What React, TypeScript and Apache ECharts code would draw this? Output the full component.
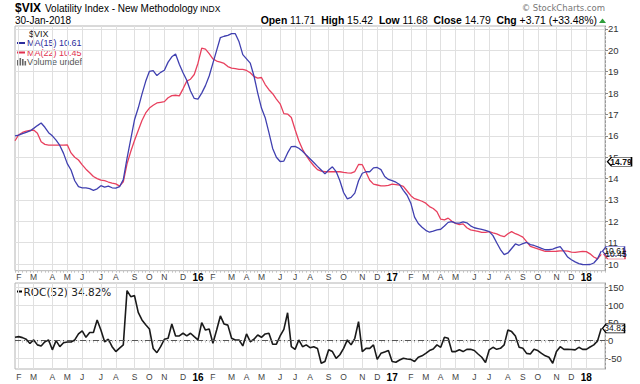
import React, { useEffect, useRef } from "react";
import * as echarts from "echarts";

// ---- categories: weekly bars (Monday dates) + one empty slot on the right
const FIRST_WEEK_UTC = Date.UTC(2015, 0, 26);
const WEEK_COUNT = 158;
const weekDates: string[] = Array.from({ length: WEEK_COUNT }, (_, i) =>
  new Date(FIRST_WEEK_UTC + i * 7 * 86400000).toISOString().slice(0, 10)
);
const categories: string[] = [...weekDates, ""];

const monthLetters = ["J", "F", "M", "A", "M", "J", "J", "A", "S", "O", "N", "D"];

// ---- series values
const ma15 = [
  16.0, 16.03, 16.1, 16.16, 16.23, 16.35, 16.48, 16.6, 16.4, 16.15,
  16.0, 15.8, 15.55, 15.18, 14.7, 14.4, 13.9, 13.62, 13.57, 13.57,
  13.53, 13.45, 13.52, 13.67, 13.6, 13.65, 13.57, 13.55, 13.62, 13.95,
  14.95, 15.85, 16.75, 17.3, 17.95, 18.55, 19.02, 19.05, 18.82, 18.97,
  19.07, 19.45, 19.7, 19.83, 19.35, 18.95, 18.6, 18.1, 17.75, 17.72,
  18.0, 18.35, 18.8, 19.4, 20.0, 20.6, 20.66, 20.7, 20.78, 20.78,
  20.4, 19.8, 19.6, 19.4, 18.8, 18.0, 17.3, 16.85, 16.15, 15.41,
  15.0, 14.8, 14.82, 15.2, 15.5, 15.51, 15.42, 15.28, 15.1, 14.93,
  14.75, 14.57, 14.4, 14.22, 14.4, 14.55, 14.33, 13.9, 13.35, 13.05,
  13.12, 13.32, 13.9, 14.25, 14.32, 14.32, 14.5, 14.52, 14.42, 14.1,
  13.96, 13.9, 13.83, 13.72, 13.45, 13.22, 12.85, 12.2, 11.9, 11.72,
  11.58, 11.49, 11.54, 11.6, 11.63, 11.78, 11.95, 11.99, 11.92, 11.92,
  11.97, 11.93, 11.79, 11.7, 11.66, 11.62, 11.58, 11.52, 11.33, 11.0,
  10.68, 10.44, 10.52, 10.73, 10.94, 10.88, 10.96, 11.02, 10.91, 10.87,
  10.8, 10.73, 10.67, 10.67, 10.7, 10.77, 10.82, 10.58, 10.33, 10.2,
  10.1, 10.02, 9.98, 9.97, 9.98, 10.05, 10.25, 10.61,
];

const ma22 = [
  15.77, 16.05, 16.16, 16.22, 16.25, 16.27, 16.12, 15.72, 15.6, 15.57,
  15.57, 15.57, 15.57, 15.57, 15.58, 15.2, 15.0, 14.87, 14.64, 14.44,
  14.27, 14.1, 14.0, 13.93, 13.9, 13.84, 13.79, 13.75, 13.65, 13.85,
  14.69, 15.27, 15.78, 16.25, 16.72, 17.07, 17.3, 17.43, 17.54, 17.57,
  17.6, 17.78, 17.88, 17.9, 17.87, 18.2, 18.56, 18.65, 18.87, 19.4,
  20.1, 20.06, 19.85, 19.6, 19.5, 19.45, 19.39, 19.24, 19.17, 19.15,
  19.11, 19.11, 19.06, 18.95, 18.78, 18.7, 18.73, 18.4, 18.16, 17.97,
  17.72, 17.5, 17.04, 17.02, 16.86, 16.3, 15.77, 15.37, 15.07, 14.82,
  14.6, 14.42, 14.35, 14.32, 14.32, 14.32, 14.32, 14.32, 14.29, 14.27,
  14.26, 14.33, 14.66, 14.65, 14.3, 13.92, 13.74, 13.7, 13.66, 13.66,
  13.68, 13.74, 13.72, 13.69, 13.64, 13.42, 13.2, 13.06, 13.0, 12.94,
  12.85, 12.69, 12.6, 12.45, 12.1, 12.07, 12.15, 12.0, 11.9, 11.85,
  11.88, 11.7, 11.6, 11.57, 11.53, 11.48, 11.48, 11.52, 11.46, 11.41,
  11.33, 11.28, 11.42, 11.52, 11.42, 11.35, 11.26, 11.05, 10.83, 10.77,
  10.71, 10.65, 10.59, 10.59, 10.59, 10.6, 10.62, 10.62, 10.61, 10.56,
  10.55, 10.57, 10.59, 10.58, 10.48, 10.33, 10.24, 10.45,
];

const roc52 = [
  9.5, 11.4, 8.6, 3.9, -8, 2, -12, -15, -3, 2,
  -26, 0, -17, -6, -4, -4, 2, 19, 27.5, 9.5,
  23, 23, 58.6, 30, -3, 4, -17, -31, -21, -12,
  141.6, 124.6, 127.5, 80, 58.6, 45, 33, -22, -34, -17,
  4, 6.7, 47, 13.3, 13.3, 21, 13.3, 21, 11.4, 2,
  51, 30, 33, -7.5, 30, 70, 47, 44, 6.7, 2,
  2, -15, 19, -3, 4, 16, 9.5, 19, 21, -10,
  -10, 13.3, 32, 79, -17, -24.6, 2, -17, -12, -20,
  -17, -22, -64, -59, -26, -31, -50, -40, -21.8, 2,
  -12, 6.7, 54, -31, -22, -22, -12, -53, -36, -32,
  -28, -59, -61, -55, -50, -52, -53, -59, -47, -43,
  -36, -28, -23.6, -12, -18.9, 9.5, 6.7, -31, -31, -26,
  -31, -24.6, -24.6, -28, -37.8, -47, -62, -26, -18.9, -24.6,
  -21.8, -12, 30, 25.6, 13.3, -18.9, -21.8, -36, -37.8, -24.6,
  -28, -36, -43, -47, -64, -31, -17, -24.6, -24.6, -25,
  -26, -18.9, -24.6, -24.6, -18, -12, -1, 34.82,
];

const closeValue = 14.79;
const mainTicks = [10, 11, 12, 13, 14, 15, 16, 17, 18, 19, 20, 21];
const rocTicks = [-50, 0, 50, 100, 150];

const BLUE = "#4040b0";
const BLUE_TEXT = "#2c2c9c";
const RED = "#e8405e";
const RED_TEXT = "#e0304f";
const GRID_C = "#e0e0e0";
const BORDER_C = "#b4b4b4";

const isMonthStart = (index: number): boolean =>
  index > 0 &&
  index < WEEK_COUNT &&
  weekDates[index].slice(5, 7) !== weekDates[index - 1].slice(5, 7);

const monthLabel = (value: string): string => {
  if (!value) return "";
  const m = parseInt(value.slice(5, 7), 10);
  if (m === 1) return `{y|${value.slice(2, 4)}}`;
  return monthLetters[m - 1];
};

const TAG = "path://M0,5L5,0L30,0L30,10L5,10Z";

const last = (a: number[]) => a[a.length - 1];

function makeXAxis(gridIndex: number, labelMargin: number) {
  return {
    type: "category",
    gridIndex,
    data: categories,
    boundaryGap: false,
    axisLine: { show: false },
    axisTick: {
      show: true,
      interval: 0,
      length: 2,
      lineStyle: { color: "#c4c4c4" },
    },
    axisLabel: {
      interval: (i: number) => isMonthStart(i),
      formatter: (v: string) => monthLabel(v),
      margin: labelMargin,
      fontSize: 8.5,
      color: "#444",
      fontFamily: "Arial",
      rich: { y: { fontWeight: "bold", fontSize: 10, color: "#000", fontFamily: "Arial" } },
    },
    splitLine: {
      show: true,
      interval: (i: number) => isMonthStart(i),
      lineStyle: { color: GRID_C, width: 1 },
    },
  };
}

function tagPoint(value: number, border: string, dx: number, w: number, bold: boolean) {
  return {
    silent: true,
    symbol: TAG,
    symbolSize: [w, 9],
    symbolOffset: [dx, 0],
    itemStyle: { color: "#fff", borderColor: border, borderWidth: 1 },
    label: {
      show: true,
      position: "inside",
      offset: [1.5, 0],
      fontSize: 8.5,
      fontWeight: bold ? "bold" : "normal",
      color: "#111",
      formatter: (p: any) => Number(p.value).toFixed(2),
    },
    data: [{ coord: [WEEK_COUNT, value], value }],
  };
}

export default function App() {
  const ref = useRef<HTMLDivElement>(null);

  useEffect(() => {
    if (!ref.current) return;
    const chart = echarts.init(ref.current, undefined, { renderer: "svg" });

    const option: any = {
      animation: false,
      backgroundColor: "#fff",
      textStyle: { fontFamily: "Arial" },
      grid: [
        { left: 15, right: 35, top: 26, height: 244.7, show: true, borderColor: BORDER_C, borderWidth: 1, outerBoundsMode: "none" },
        { left: 15, right: 35, top: 283, height: 86, show: true, borderColor: BORDER_C, borderWidth: 1, outerBoundsMode: "none" },
      ],
      xAxis: [makeXAxis(0, 1.5), makeXAxis(1, 3)],
      yAxis: [
        {
          type: "value",
          gridIndex: 0,
          position: "right",
          min: 9.69,
          max: 21.14,
          axisLine: { show: true, lineStyle: { color: "#999", type: [2, 2] } },
          axisTick: { show: true, length: 3, customValues: mainTicks, lineStyle: { color: "#888" } },
          axisLabel: { customValues: mainTicks, margin: 3, fontSize: 9.5, color: "#333", fontFamily: "Arial" },
          splitLine: { show: true, lineStyle: { color: GRID_C } },
        },
        {
          type: "value",
          gridIndex: 1,
          position: "right",
          min: -80.3,
          max: 163.3,
          axisLine: { show: true, lineStyle: { color: "#999", type: [2, 2] } },
          axisTick: { show: true, length: 3, customValues: rocTicks, lineStyle: { color: "#888" } },
          axisLabel: { customValues: rocTicks, margin: 3, fontSize: 9.5, color: "#333", fontFamily: "Arial" },
          splitLine: { show: true, lineStyle: { color: GRID_C } },
        },
      ],
      series: [
        {
          name: "MA(22)",
          type: "line",
          xAxisIndex: 0,
          yAxisIndex: 0,
          data: ma22,
          symbol: "none",
          lineStyle: { color: RED, width: 1.3 },
          markPoint: tagPoint(last(ma22), RED, 9.5, 21, false),
        },
        {
          name: "MA(15)",
          type: "line",
          xAxisIndex: 0,
          yAxisIndex: 0,
          data: ma15,
          symbol: "none",
          lineStyle: { color: BLUE, width: 1.3 },
          markPoint: tagPoint(last(ma15), BLUE, 8.5, 22, false),
        },
        {
          name: "close",
          type: "line",
          xAxisIndex: 0,
          yAxisIndex: 0,
          data: [],
          symbol: "none",
          markPoint: tagPoint(closeValue, "#000", 14.5, 24, true),
        },
        {
          name: "ROC(52)",
          type: "line",
          xAxisIndex: 1,
          yAxisIndex: 1,
          data: roc52,
          symbol: "none",
          lineStyle: { color: "#1a1a1a", width: 1.6 },
          markLine: {
            silent: true,
            symbol: "none",
            label: { show: false },
            lineStyle: { color: "#555", width: 1, type: [6, 3, 1, 3] },
            data: [{ yAxis: 0 }],
          },
          markPoint: tagPoint(last(roc52), "#000", 8.5, 22, false),
        },
      ],
      graphic: [
        // title row
        { type: "text", x: 15, y: 8, style: { text: "$VIX", font: "bold 12px Arial", fill: "#000", textVerticalAlign: "middle" } },
        { type: "text", x: 45, y: 8, style: { text: "Volatility Index - New Methodology", font: "10px Arial", fill: "#000", textVerticalAlign: "middle" } },
        { type: "text", x: 200, y: 8.5, style: { text: "INDX", font: "8.5px Arial", fill: "#000", textVerticalAlign: "middle" } },
        { type: "text", x: 15, y: 20.5, style: { text: "30-Jan-2018", font: "10px Arial", fill: "#000", textVerticalAlign: "middle" } },
        { type: "text", x: 605, y: 8, style: { text: "\u00a9 StockCharts.com", font: "8.5px 'DejaVu Sans'", fill: "#777", textAlign: "right", textVerticalAlign: "middle" } },
        {
          type: "text",
          x: 597,
          y: 20.5,
          style: {
            text: "{b|Open} 11.71  {b|High} 15.42  {b|Low} 11.68  {b|Close} 14.79  {b|Chg} +3.71 (+33.48%)",
            font: "10.4px Arial",
            fill: "#000",
            textAlign: "right",
            textVerticalAlign: "middle",
            rich: { b: { fontWeight: "bold", fontSize: 10.4, fontFamily: "Arial", fill: "#000" } },
          },
        },
        { type: "polygon", shape: { points: [[599, 23], [606, 23], [602.5, 18.5]] }, style: { fill: "#2e9e3a" } },
        // main panel legend
        { type: "text", x: 29, y: 33.5, style: { text: "$VIX", font: "9px Arial", fill: "#222", textVerticalAlign: "middle" } },
        { type: "line", shape: { x1: 17, y1: 43, x2: 25, y2: 43 }, style: { stroke: BLUE_TEXT, lineWidth: 2 } },
        { type: "text", x: 27, y: 43, style: { text: "MA(15) 10.61", font: "9px Arial", fill: BLUE_TEXT, textVerticalAlign: "middle" } },
        { type: "line", shape: { x1: 17, y1: 52.5, x2: 25, y2: 52.5 }, style: { stroke: RED_TEXT, lineWidth: 2 } },
        { type: "text", x: 27, y: 52.5, style: { text: "MA(22) 10.45", font: "9px Arial", fill: RED_TEXT, textVerticalAlign: "middle" } },
        { type: "rect", shape: { x: 17, y: 60, width: 1.6, height: 5.5 }, style: { fill: "#666" } },
        { type: "rect", shape: { x: 19.5, y: 58, width: 1.6, height: 7.5 }, style: { fill: "#666" } },
        { type: "rect", shape: { x: 22, y: 59, width: 1.6, height: 6.5 }, style: { fill: "#666" } },
        { type: "rect", shape: { x: 24.5, y: 61, width: 1.6, height: 4.5 }, style: { fill: "#666" } },
        { type: "text", x: 27, y: 62, style: { text: "Volume undef", font: "9px Arial", fill: "#555", textVerticalAlign: "middle" } },
        // ROC legend
        { type: "line", shape: { x1: 17, y1: 291.5, x2: 22, y2: 291.5 }, style: { stroke: "#000", lineWidth: 2 } },
        { type: "text", x: 23.5, y: 291.5, style: { text: "ROC(52) 34.82%", font: "10.5px 'DejaVu Sans'", fill: "#222", textVerticalAlign: "middle" } },
      ],
    };

    chart.setOption(option);
    return () => chart.dispose();
  }, []);

  return (
    <div
      ref={ref}
      style={{ position: "absolute", left: 0, top: 0, width: 640, height: 384 }}
    />
  );
}
